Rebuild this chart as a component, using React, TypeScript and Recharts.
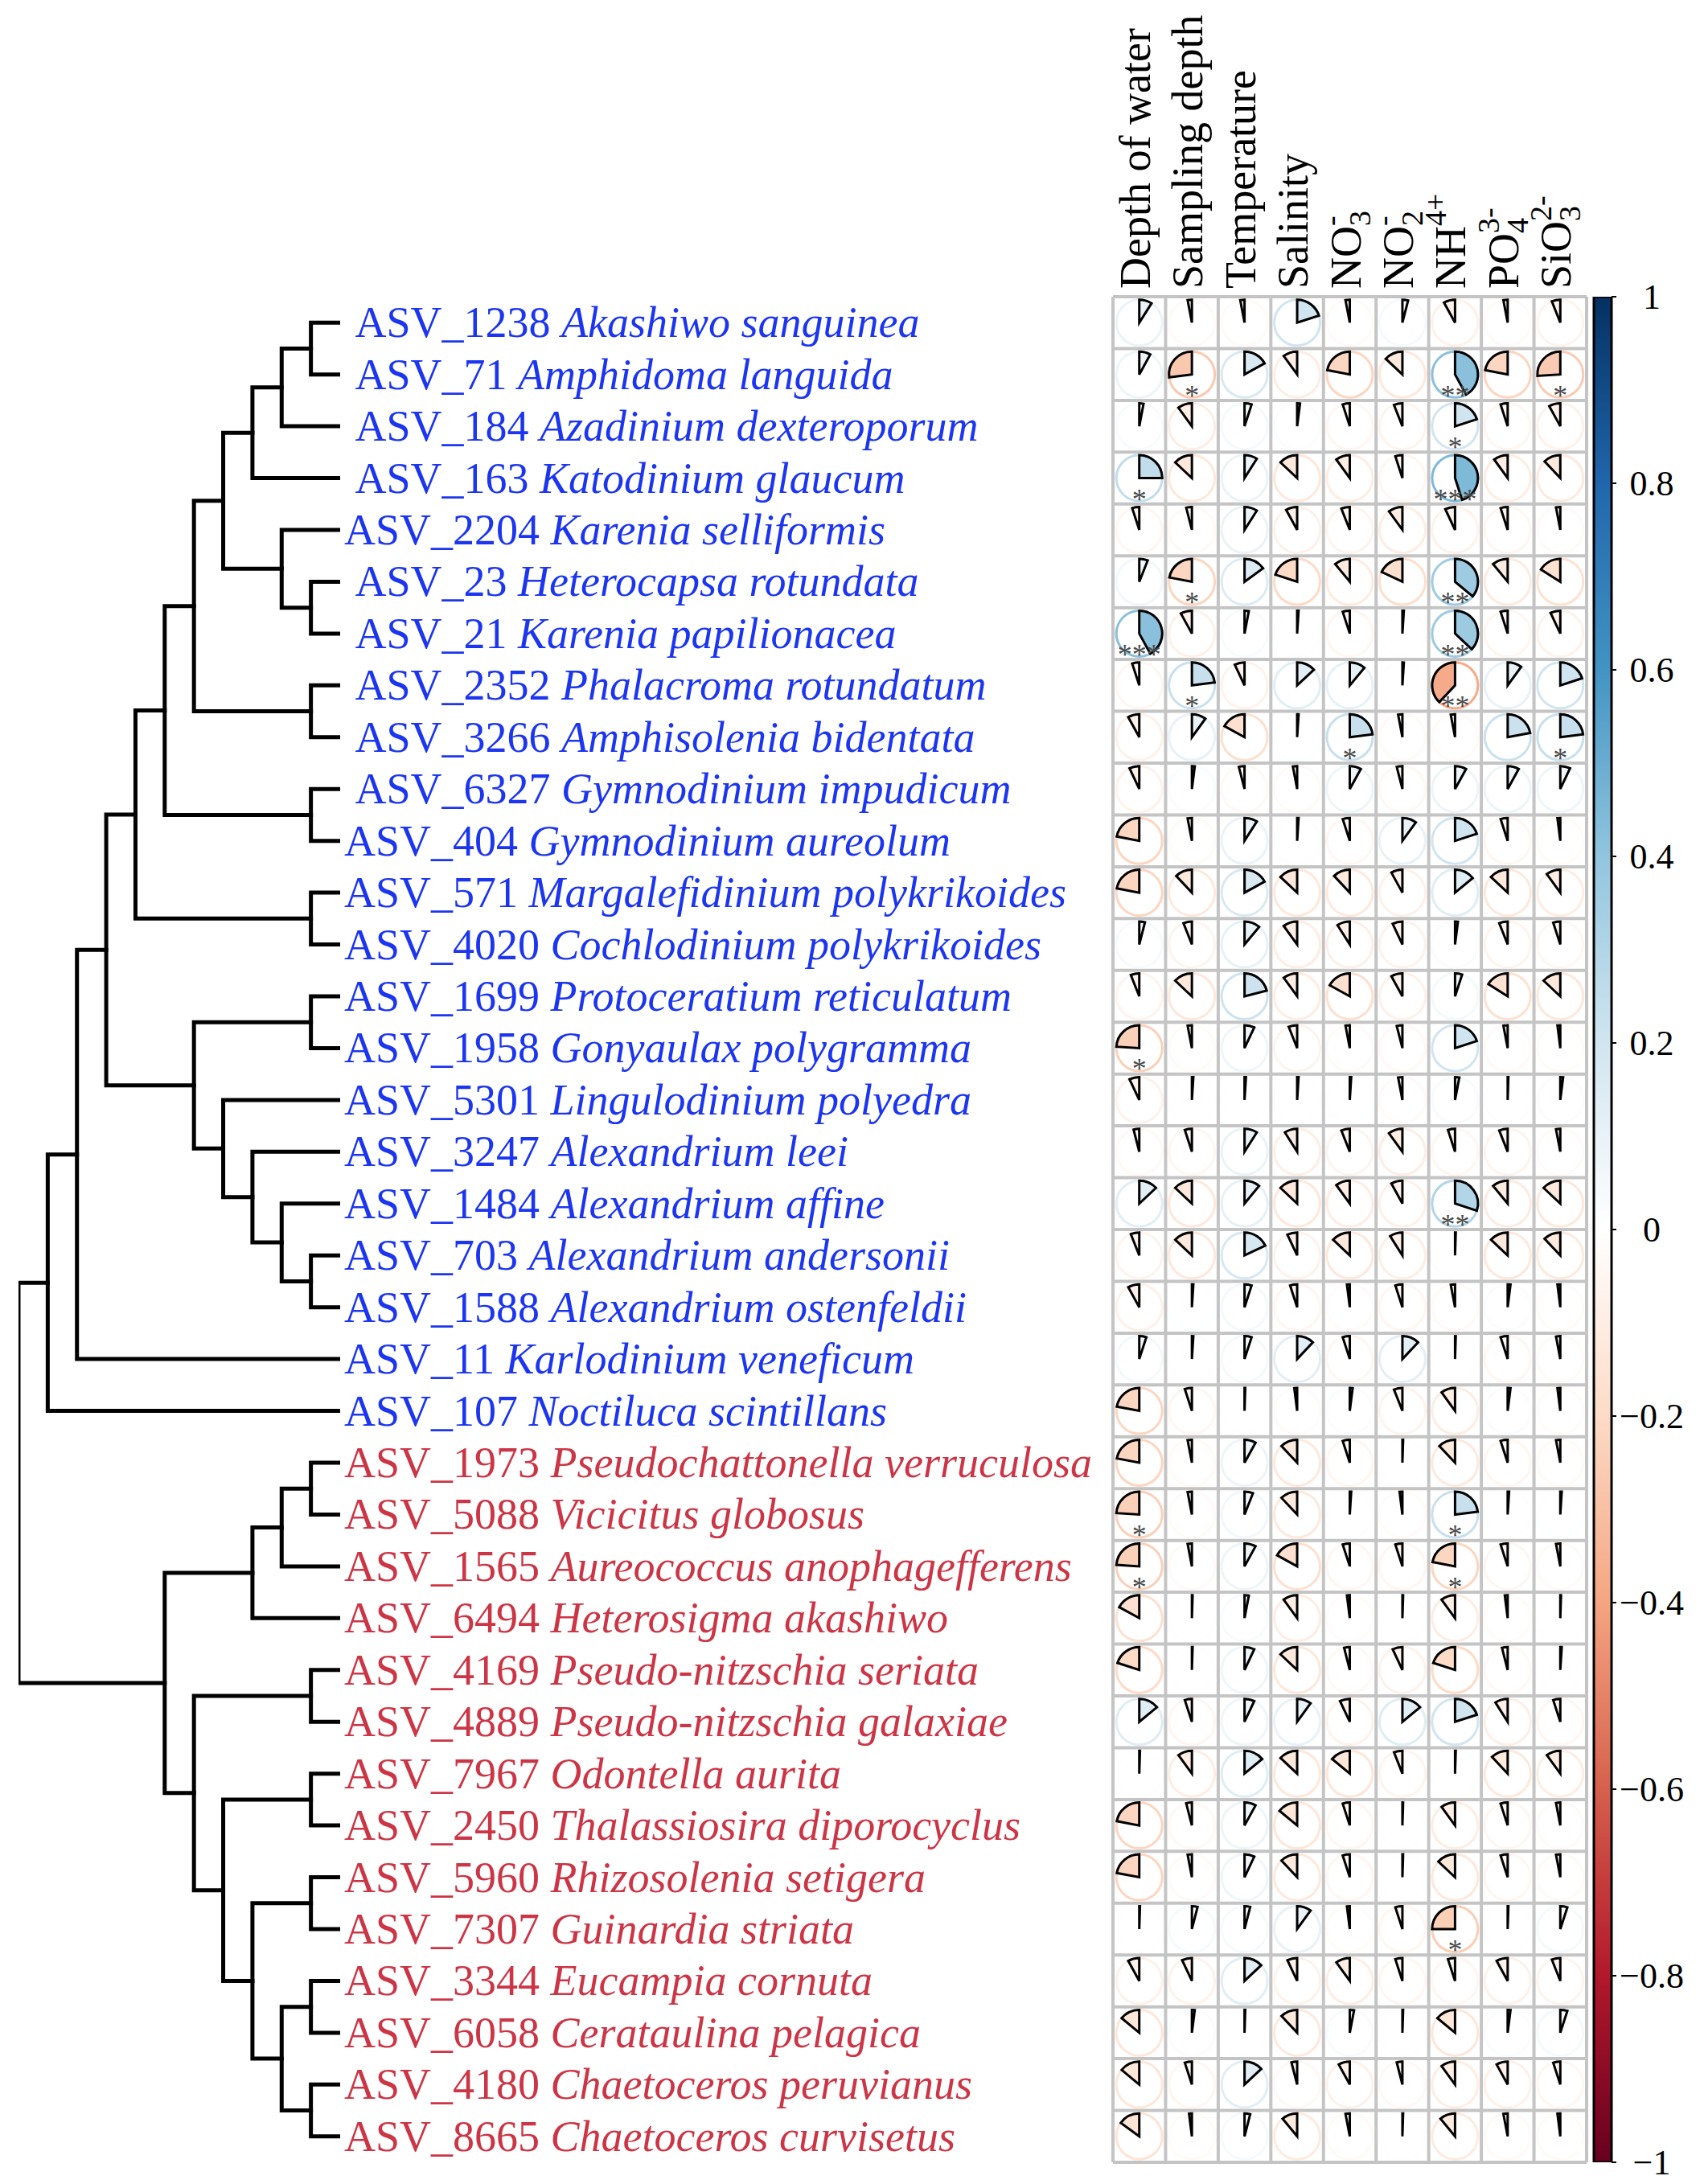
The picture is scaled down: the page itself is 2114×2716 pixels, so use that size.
import React from 'react';
import { ComposedChart, Line, Scatter, Bar, XAxis, YAxis, ReferenceLine } from 'recharts';

// leaf order top -> bottom
const leafIds = ['1238', '71', '184', '163', '2204', '23', '21', '2352', '3266', '6327', '404', '571', '4020', '1699', '1958', '5301', '3247', '1484', '703', '1588', '11', '107', '1973', '5088', '1565', '6494', '4169', '4889', '7967', '2450', '5960', '7307', '3344', '6058', '4180', '8665'];
const species = ['Akashiwo sanguinea', 'Amphidoma languida', 'Azadinium dexteroporum', 'Katodinium glaucum', 'Karenia selliformis', 'Heterocapsa rotundata', 'Karenia papilionacea', 'Phalacroma rotundatum', 'Amphisolenia bidentata', 'Gymnodinium impudicum', 'Gymnodinium aureolum', 'Margalefidinium polykrikoides', 'Cochlodinium polykrikoides', 'Protoceratium reticulatum', 'Gonyaulax polygramma', 'Lingulodinium polyedra', 'Alexandrium leei', 'Alexandrium affine', 'Alexandrium andersonii', 'Alexandrium ostenfeldii', 'Karlodinium veneficum', 'Noctiluca scintillans', 'Pseudochattonella verruculosa', 'Vicicitus globosus', 'Aureococcus anophagefferens', 'Heterosigma akashiwo', 'Pseudo-nitzschia seriata', 'Pseudo-nitzschia galaxiae', 'Odontella aurita', 'Thalassiosira diporocyclus', 'Rhizosolenia setigera', 'Guinardia striata', 'Eucampia cornuta', 'Cerataulina pelagica', 'Chaetoceros peruvianus', 'Chaetoceros curvisetus'];
// labels written with a leading space in the original
const indentedIds = ['1238', '71', '184', '163', '23', '21', '2352', '3266', '6327'];
const blueCount = 22;

// [node, childA, childB, height level]
const merges: [string, string, string, number][] = [
  ['A', '1238', '71', 1], ['B', 'A', '184', 2], ['C', 'B', '163', 3],
  ['D', '23', '21', 1], ['E', '2204', 'D', 2], ['F', 'C', 'E', 4],
  ['G', '2352', '3266', 1], ['H', 'F', 'G', 5], ['I', '6327', '404', 1],
  ['J', 'H', 'I', 6], ['K', '571', '4020', 1], ['L', 'J', 'K', 7],
  ['M', '1699', '1958', 1], ['N', '703', '1588', 1], ['O', '1484', 'N', 2],
  ['P', '3247', 'O', 3], ['Q', '5301', 'P', 4], ['R', 'M', 'Q', 5],
  ['S', 'L', 'R', 8], ['T', 'S', '11', 9], ['U', 'T', '107', 10],
  ['a', '1973', '5088', 1], ['b', 'a', '1565', 2], ['c', 'b', '6494', 3],
  ['d', '4169', '4889', 1], ['e', '7967', '2450', 1], ['f', '5960', '7307', 1],
  ['g', '3344', '6058', 1], ['h', '4180', '8665', 1], ['i', 'g', 'h', 2],
  ['j', 'f', 'i', 3], ['k', 'e', 'j', 4], ['l', 'd', 'k', 5],
  ['m', 'c', 'l', 6], ['root', 'U', 'm', 11],
];

const envNames = ['Depth of water', 'Sampling depth', 'Temperature', 'Salinity', 'NO', 'NO', 'NH', 'PO', 'SiO'];
const envSub = ['', '', '', '', '3', '2', '', '4', '3'];
const envSup = ['', '', '', '', '-', '-', '4+', '3-', '2-'];

const depthOfWater = [0.09, 0.08, 0.03, 0.25, -0.05, 0.06, 0.42, -0.05, -0.08, -0.07, -0.22, -0.22, 0.04, -0.06, -0.24, -0.07, -0.04, 0.13, -0.06, -0.08, 0.05, -0.22, -0.22, -0.24, -0.24, -0.17, -0.2, 0.14, 0.005, -0.22, -0.22, 0.005, -0.08, -0.14, -0.14, -0.15];
const samplingDepth = [-0.03, -0.27, -0.1, -0.13, -0.04, -0.22, -0.08, 0.23, 0.1, 0.02, -0.03, -0.12, -0.06, -0.13, -0.03, 0.01, -0.05, -0.13, -0.13, 0.01, 0.01, -0.05, -0.03, -0.03, -0.03, 0.005, 0.005, -0.05, -0.1, -0.04, -0.03, 0.04, -0.07, 0.02, -0.05, -0.02];
const temperature = [-0.03, 0.17, 0.05, 0.09, 0.09, 0.15, 0.03, -0.07, -0.17, -0.04, 0.09, 0.17, 0.11, 0.21, 0.07, 0.01, 0.09, 0.11, 0.18, 0.05, 0.05, 0.005, 0.08, 0.06, 0.08, 0.03, 0.07, 0.07, 0.14, 0.08, 0.07, 0.04, 0.13, 0.005, 0.13, 0.04];
const salinity = [0.2, -0.1, 0.02, -0.13, -0.08, -0.2, 0.01, 0.13, 0.01, -0.03, 0.01, -0.13, -0.1, -0.1, -0.06, 0.01, -0.09, -0.13, -0.07, -0.05, 0.12, -0.02, -0.12, -0.12, -0.17, -0.1, -0.13, 0.1, -0.13, -0.14, -0.12, 0.1, -0.07, -0.12, -0.04, -0.11];
const nitrate = [-0.03, -0.22, -0.05, -0.1, -0.06, -0.11, -0.05, 0.11, 0.23, 0.08, -0.05, -0.12, -0.09, -0.17, -0.03, 0.01, -0.06, -0.1, -0.13, -0.02, -0.05, 0.02, -0.05, 0.01, -0.05, -0.02, -0.04, -0.07, -0.14, -0.05, -0.05, -0.02, -0.1, 0.03, -0.08, -0.03];
const nitrite = [0.04, -0.13, -0.06, -0.05, -0.1, -0.18, 0.01, 0.01, -0.03, -0.04, 0.1, -0.08, -0.07, -0.08, -0.04, -0.03, -0.1, -0.08, -0.09, -0.05, 0.12, -0.06, 0.005, -0.02, -0.05, 0.005, -0.07, 0.14, -0.06, 0.005, 0.005, -0.05, -0.05, 0.005, -0.04, 0.005];
const ammonium = [-0.08, 0.42, 0.2, 0.45, -0.07, 0.36, 0.37, -0.38, -0.03, 0.08, 0.2, 0.14, 0.02, 0.05, 0.2, 0.03, -0.05, 0.3, 0.005, -0.03, 0.005, -0.1, -0.12, 0.23, -0.22, -0.1, -0.2, 0.2, 0.005, -0.1, -0.13, -0.25, -0.05, -0.14, -0.1, -0.11];
const phosphate = [-0.03, -0.22, -0.05, -0.1, -0.05, -0.11, -0.05, 0.1, 0.22, 0.08, -0.05, -0.13, -0.06, -0.16, -0.03, 0.005, -0.06, -0.11, -0.13, 0.02, -0.05, 0.02, -0.05, 0.01, -0.05, -0.02, -0.04, -0.09, -0.12, -0.05, -0.05, 0.005, -0.08, 0.02, -0.08, -0.03];
const silicate = [-0.06, -0.26, -0.08, -0.12, -0.03, -0.16, -0.07, 0.2, 0.23, 0.07, -0.02, -0.1, -0.05, -0.13, -0.02, 0.02, -0.03, -0.13, -0.12, -0.02, -0.03, -0.02, -0.03, 0.01, -0.03, 0.005, 0.01, -0.05, -0.1, -0.03, -0.03, 0.05, -0.06, 0.05, -0.05, -0.02];
const envColumns = [depthOfWater, samplingDepth, temperature, salinity, nitrate, nitrite, ammonium, phosphate, silicate];

// [row, column, marks]
const sigMarks: [number, number, string][] = [
  [1, 1, '*'], [1, 6, '**'], [1, 8, '*'], [2, 6, '*'], [3, 0, '*'], [3, 6, '***'],
  [5, 1, '*'], [5, 6, '**'], [6, 0, '***'], [6, 6, '**'], [7, 1, '*'], [7, 6, '**'],
  [8, 4, '*'], [8, 8, '*'], [14, 0, '*'], [17, 6, '**'], [23, 0, '*'], [23, 6, '*'],
  [24, 0, '*'], [24, 6, '*'], [31, 6, '*'],
];

const colorTicks = [1, 0.8, 0.6, 0.4, 0.2, 0, -0.2, -0.4, -0.6, -0.8, -1];

const W = 2114;
const H = 2716;
const FONT = 'Liberation Serif, Tinos, Times New Roman, Times, DejaVu Serif, Noto Serif, serif';
const RDBU = ['#67001F', '#B2182B', '#D6604D', '#F4A582', '#FDDBC7', '#FFFFFF', '#D1E5F0', '#92C5DE', '#4393C3', '#2166AC', '#053061'];
const BLUE = '#1c35f0';
const RED = '#cc3545';

const hexToRgb = (h: string) => [1, 3, 5].map((i) => parseInt(h.slice(i, i + 2), 16));
const corrColor = (v: number) => {
  const t = ((v + 1) / 2) * 10;
  const i = Math.max(0, Math.min(9, Math.floor(t)));
  const f = t - i;
  const a = hexToRgb(RDBU[i]);
  const b = hexToRgb(RDBU[i + 1]);
  const c = a.map((x, k) => Math.round(x + (b[k] - x) * f));
  return `rgb(${c[0]},${c[1]},${c[2]})`;
};

// dendrogram node positions: leaves at level 0 on their row, parents at the mean of children
const nodePos: Record<string, { x: number; y: number }> = {};
leafIds.forEach((id, i) => { nodePos[id] = { x: 0, y: i }; });
const treeLines = merges.map(([name, a, b, lvl]) => {
  const pa = nodePos[a];
  const pb = nodePos[b];
  nodePos[name] = { x: lvl, y: (pa.y + pb.y) / 2 };
  return [
    { x: pa.x, y: pa.y },
    { x: lvl, y: pa.y },
    { x: lvl, y: pb.y },
    { x: pb.x, y: pb.y },
  ];
});

const cells = envColumns.flatMap((col, c) =>
  col.map((v, r) => {
    const s = sigMarks.find((m) => m[0] === r && m[1] === c);
    return { x: c, y: r, v, sig: s ? s[2] : '' };
  })
);

const rowIdx = leafIds.map((_, i) => i);
const colIdx = envColumns.map((_, i) => i);

const LabelTick = (props: any) => {
  const { x, y, payload } = props;
  const i = payload.value as number;
  const id = leafIds[i];
  const lead = indentedIds.includes(id) ? '\u00a0' : '';
  return (
    <text x={x} y={y} dy={18} fontSize={54} style={{ fontFamily: FONT }} fill={i < blueCount ? BLUE : RED}>
      <tspan>{`${lead}ASV_${id} `}</tspan>
      <tspan fontStyle="italic">{species[i]}</tspan>
    </text>
  );
};

const HeaderTick = (props: any) => {
  const { x, y, payload } = props;
  const i = payload.value as number;
  const sub = envSub[i];
  const sup = envSup[i];
  return (
    <text transform={`translate(${x + 13},${y}) rotate(-90)`} fontSize={54} style={{ fontFamily: FONT }} fill="#000">
      <tspan>{envNames[i]}</tspan>
      {sub && <tspan fontSize={38} dy={12}>{sub}</tspan>}
      {sup && (
        <tspan fontSize={38} dx={sub ? -19 : 0} dy={sub ? -36 : -24}>
          {sup}
        </tspan>
      )}
    </text>
  );
};

const ColorTick = (props: any) => {
  const { x, y, payload } = props;
  const v = payload.value as number;
  const label = v === 0 ? '0' : Math.abs(v) === 1 ? `${v < 0 ? '\u2212' : ''}1` : `${v < 0 ? '\u2212' : ''}${Math.abs(v).toFixed(1)}`;
  return (
    <text x={x + 40} y={y} dy={15} textAnchor="middle" fontSize={44} style={{ fontFamily: FONT }} fill="#000">
      {label}
    </text>
  );
};

const PieCell = (props: any) => {
  const { cx, cy, payload } = props;
  const v = payload.v as number;
  const R = 28.5;
  const col = corrColor(v);
  const th = Math.abs(v) * 2 * Math.PI;
  const dir = v >= 0 ? 1 : -1;
  const ex = cx + dir * R * Math.sin(th);
  const ey = cy - R * Math.cos(th);
  const d = `M${cx},${cy} L${cx},${cy - R} A${R},${R} 0 ${th > Math.PI ? 1 : 0} ${v >= 0 ? 1 : 0} ${ex},${ey} Z`;
  return (
    <g>
      <circle cx={cx} cy={cy} r={R} fill="none" stroke={col} strokeWidth={3} />
      <path d={d} fill={col} stroke="#000" strokeWidth={3} />
      {payload.sig && (
        <text x={cx} y={cy + 38} textAnchor="middle" fontSize={36} style={{ fontFamily: FONT }} fill="#4a4a4a">
          {payload.sig}
        </text>
      )}
    </g>
  );
};

const layer: React.CSSProperties = { position: 'absolute', left: 0, top: 0 };

export default function App() {
  return (
    <div style={{ position: 'absolute', left: 0, top: 0, width: W, height: H, background: '#fff' }}>
      <svg width={0} height={0} style={{ position: 'absolute' }}>
        <defs>
          <linearGradient id="cbGrad" x1="0" y1="0" x2="0" y2="1">
            {RDBU.slice().reverse().map((c, i) => (
              <stop key={i} offset={`${i * 10}%`} stopColor={c} />
            ))}
          </linearGradient>
        </defs>
      </svg>

      {/* dendrogram with species labels */}
      <div style={layer}>
        <ComposedChart width={W} height={H} margin={{ top: 369, right: 0, bottom: 27, left: 23 }}>
          <XAxis type="number" dataKey="x" domain={[0, 11]} reversed hide allowDataOverflow />
          <YAxis
            type="number"
            dataKey="y"
            domain={[-0.5, 35.5]}
            reversed
            allowDataOverflow
            orientation="right"
            width={W - 423}
            ticks={rowIdx}
            interval={0}
            axisLine={false}
            tickLine={false}
            tickSize={0}
            tickMargin={5}
            tick={<LabelTick />}
          />
          {treeLines.map((pts, i) => (
            <Line
              key={i}
              data={pts}
              dataKey="y"
              type="linear"
              stroke="#000"
              strokeWidth={5}
              strokeLinecap="square"
              strokeLinejoin="miter"
              dot={false}
              activeDot={false}
              isAnimationActive={false}
            />
          ))}
        </ComposedChart>
      </div>

      {/* correlation pies */}
      <div style={layer}>
        <ComposedChart width={W} height={H} margin={{ top: 9, right: W - 1973, bottom: 27, left: 1384 }}>
          <XAxis
            type="number"
            dataKey="x"
            domain={[-0.5, 8.5]}
            allowDataOverflow
            orientation="top"
            height={360}
            ticks={colIdx}
            interval={0}
            axisLine={false}
            tickLine={false}
            tickSize={0}
            tickMargin={10}
            tick={<HeaderTick />}
          />
          <YAxis type="number" dataKey="y" domain={[-0.5, 35.5]} reversed hide allowDataOverflow />
          {[...colIdx, 9].map((k) => (
            <ReferenceLine key={`v${k}`} x={k - 0.5} stroke="#c4c4c4" strokeWidth={4} ifOverflow="visible" />
          ))}
          {[...rowIdx, 36].map((k) => (
            <ReferenceLine key={`h${k}`} y={k - 0.5} stroke="#c4c4c4" strokeWidth={4} ifOverflow="visible" />
          ))}
          <Scatter data={cells} shape={<PieCell />} isAnimationActive={false} />
        </ComposedChart>
      </div>

      {/* colour bar */}
      <div style={layer}>
        <ComposedChart
          width={W}
          height={H}
          data={[{ k: 'cb', range: [-1, 1] }]}
          margin={{ top: 369, right: 0, bottom: 27, left: 1982 }}
          barCategoryGap={0}
        >
          <XAxis type="category" dataKey="k" hide />
          <YAxis
            type="number"
            domain={[-1, 1]}
            allowDataOverflow
            orientation="right"
            width={W - 2004}
            ticks={colorTicks}
            interval={0}
            axisLine={false}
            tickLine={{ stroke: '#000', strokeWidth: 2 }}
            tickSize={6}
            tickMargin={4}
            tick={<ColorTick />}
          />
          <Bar dataKey="range" fill="url(#cbGrad)" stroke="#000" strokeWidth={3} isAnimationActive={false} />
        </ComposedChart>
      </div>
    </div>
  );
}
